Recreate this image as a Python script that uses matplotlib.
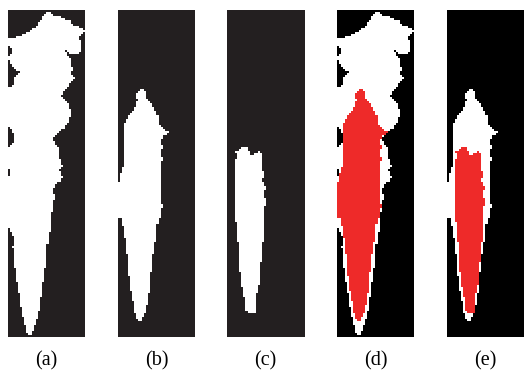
import numpy as np
import matplotlib
matplotlib.use('Agg')
from matplotlib import pyplot as plt
from matplotlib.path import Path

# region outlines, panel pixels (x to the right, y downwards), panel is 77 x 327
outline_a = [
    (38, 3), (42, 2), (45, 5), (50, 6), (57, 9), (62, 11), (65, 15), (70, 17),
    (75, 19), (77, 22), (73, 24), (71, 28), (73, 32), (73, 39), (71, 44), (63, 44),
    (57, 41), (60, 46), (63, 49), (63, 56), (66, 59), (62, 62), (67, 67), (63, 71),
    (60, 76), (55, 81), (53, 86), (57, 89), (60, 94), (63, 101), (62, 106), (61, 112),
    (55, 119), (48, 124), (45, 128), (46, 134), (50, 137), (51, 144), (52, 151),
    (54, 157), (51, 161), (54, 166), (52, 171), (47, 174), (45, 179), (46, 187),
    (44, 197), (43, 207), (42, 217), (41, 227), (39, 237), (38, 251), (37, 264),
    (35, 274), (34, 284), (32, 294), (31, 304), (28, 314), (25, 322), (22, 326),
    (20, 324), (18, 319), (16, 311), (14, 301), (12, 291), (11, 281), (9, 271),
    (8, 261), (6, 254), (7, 247), (5, 237), (6, 227), (3, 221), (0, 217),
    (0, 166), (2, 166), (2, 159), (0, 159),
    (0, 137), (4, 136), (7, 131), (6, 124), (3, 119), (0, 117),
    (0, 78), (5, 76), (6, 69), (8, 65), (13, 62), (8, 59), (4, 55), (1, 51), (0, 51),
    (0, 46), (3, 45), (4, 41), (2, 37), (0, 37),
    (0, 29), (4, 28), (10, 27), (17, 24), (24, 20), (30, 15), (33, 10), (35, 6),
]

outline_b = [
    (21, 80), (23, 79), (27, 80), (28, 83), (28, 87), (31, 90), (33, 92), (36, 97),
    (38, 101), (40, 106), (41, 112), (42, 117), (45, 119), (48, 121), (51, 123),
    (48, 125), (45, 126), (43, 131), (44, 137), (43, 144), (44, 151), (42, 157),
    (43, 164), (42, 171), (43, 177), (42, 184), (43, 191), (44, 197), (42, 204),
    (41, 211), (38, 217), (38, 227), (37, 237), (35, 247), (34, 257), (33, 267),
    (32, 277), (31, 287), (29, 297), (27, 304), (23, 311), (22, 311), (18, 309),
    (17, 302), (16, 294), (14, 284), (12, 274), (11, 264), (10, 254), (9, 244),
    (8, 234), (7, 227), (6, 221), (4, 211), (3, 207), (0, 207), (0, 172), (2, 171),
    (3, 164), (5, 157), (6, 151), (7, 144), (6, 137), (7, 131), (6, 124), (5, 117),
    (8, 112), (10, 107), (14, 102), (17, 97), (18, 92), (20, 89), (18, 86), (20, 82),
]

outline_c = [
    (9, 142), (13, 140), (18, 136), (20, 139), (22, 144), (24, 146), (28, 143),
    (32, 142), (34, 145), (35, 151), (34, 157), (36, 164), (35, 171), (38, 177),
    (36, 184), (39, 191), (37, 197), (36, 207), (37, 217), (36, 227), (35, 237),
    (34, 247), (33, 257), (33, 267), (31, 277), (29, 284), (28, 291), (29, 296),
    (28, 302), (24, 304), (21, 303), (19, 301), (18, 296), (19, 292), (17, 287),
    (16, 281), (14, 271), (13, 261), (13, 251), (12, 241), (11, 231), (10, 221),
    (9, 211), (9, 201), (8, 191), (9, 184), (8, 177), (9, 167), (9, 157), (8, 151),
    (10, 147),
]

labels = ['(a)', '(b)', '(c)', '(d)', '(e)']

W, H = 77, 327
NX, NY = 38, 162   # mask grid, about 2 px per cell

GRAY = np.array([35, 31, 32]) / 255
BLACK = np.array([0, 0, 0]) / 255
WHITE = np.array([255, 255, 255]) / 255
RED = np.array([238, 42, 41]) / 255


def rasterize(outline):
    xs = (np.arange(NX) + 0.5) * W / NX
    ys = (np.arange(NY) + 0.5) * H / NY
    gx, gy = np.meshgrid(xs, ys)
    pts = np.column_stack([gx.ravel(), gy.ravel()])
    return Path(outline).contains_points(pts).reshape(NY, NX)


def compose(bg, layers):
    img = np.ones((NY, NX, 3)) * bg
    for m, c in layers:
        img[m] = c
    return img


ma = rasterize(outline_a)
mb = rasterize(outline_b)
mc = rasterize(outline_c)

panels = [
    compose(GRAY, [(ma, WHITE)]),
    compose(GRAY, [(mb, WHITE)]),
    compose(GRAY, [(mc, WHITE)]),
    compose(BLACK, [(ma, WHITE), (mb, RED)]),
    compose(BLACK, [(mb, WHITE), (mc, RED)]),
]

fig_w, fig_h = 524, 372
lefts = [8, 118, 227, 337, 447]
top = 10

fig = plt.figure(figsize=(fig_w / 100, fig_h / 100), dpi=100)
for left, img, lab in zip(lefts, panels, labels):
    ax = fig.add_axes([left / fig_w, (fig_h - top - H) / fig_h, W / fig_w, H / fig_h])
    ax.imshow(img, extent=(0, W, H, 0), interpolation='nearest', aspect='auto')
    ax.set_axis_off()
    fig.text((left + W / 2) / fig_w, 1 - 361 / fig_h, lab, ha='center', va='center',
             fontsize=14.5, family='Liberation Serif')

fig.savefig('out.png', dpi=100)
